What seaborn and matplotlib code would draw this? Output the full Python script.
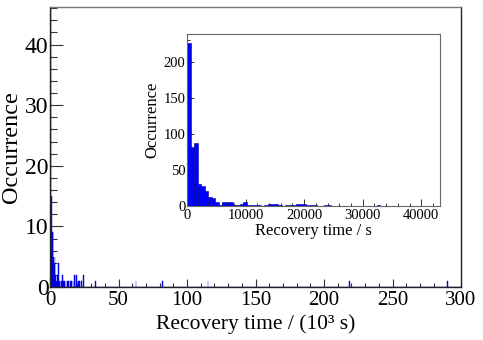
import numpy as np
import pandas as pd
import matplotlib
matplotlib.use("Agg")
import matplotlib.pyplot as plt
from matplotlib.ticker import MultipleLocator
import seaborn as sns

# ---- main histogram data (recovery time in 10^3 s, bin start; occurrences) ----
main_bin_start = [0, 0.5, 1.0, 1.5, 2.0, 2.5, 3.0, 3.5, 4.0, 4.5,
                  5.0, 5.5, 6.0, 6.5, 7.0, 8.0, 9.0, 9.5, 10.5, 11.5,
                  12.5, 13.5, 14.5, 15.5, 16.5, 17.5, 18.0, 19.0, 19.5, 20.5,
                  21.5, 22.5, 24.0, 33.0, 62.5, 82.0, 115.0, 218.5, 290.0]
main_counts = [60, 15, 15, 9, 9, 5, 4, 5, 2, 1,
               2, 1, 4, 1, 1, 1, 2, 1, 1, 1,
               1, 1, 1, 1, 1, 2, 2, 2, 1, 1,
               1, 1, 2, 1, 1, 1, 1, 1, 1]
main_bin_width = 0.5

# ---- inset histogram data (recovery time in s, bin start; occurrences) ----
inset_bin_start = [0, 600, 1200, 1800, 2400, 3000, 3600, 4200, 4800, 5400,
                   6000, 6600, 7200, 7800, 8400, 9000, 9600, 10200, 10800, 11400,
                   12000, 13200, 13800, 14400, 15000, 15600, 16800, 17400, 18000, 18600,
                   19200, 19800, 20400, 21000, 21600, 23400, 24000, 32400]
inset_counts = [226, 82, 87, 31, 28, 21, 12, 11, 5, 2,
                6, 5, 5, 2, 2, 3, 5, 1, 1, 1,
                2, 2, 3, 3, 3, 2, 1, 2, 1, 3,
                3, 3, 2, 1, 2, 2, 2, 1]
inset_bin_width = 600

main_xticks = [0, 50, 100, 150, 200, 250, 300]
main_yticks = [0, 10, 20, 30, 40]
inset_xticks = [0, 10000, 20000, 30000, 40000]
inset_yticks = [0, 50, 100, 150, 200]

sns.set_style("ticks")
plt.rcParams['font.family'] = ['Liberation Serif', 'DejaVu Serif']
plt.rcParams['text.color'] = 'black'
plt.rcParams['axes.labelcolor'] = 'black'
plt.rcParams['xtick.labelcolor'] = 'black'
plt.rcParams['ytick.labelcolor'] = 'black'

fig = plt.figure(figsize=(4.83, 3.40), dpi=100)
ax = fig.add_axes([50/483, 1-287/340, (461-50)/483, (287-7)/340])

df_main = pd.DataFrame({"t": np.array(main_bin_start, dtype=float) + main_bin_width/2,
                        "n": np.array(main_counts, dtype=float)})
sns.histplot(data=df_main, x="t", weights="n",
             binwidth=main_bin_width, binrange=(0, 300),
             color="#0000ff", alpha=1, edgecolor="#0000cc", linewidth=0.3,
             ax=ax)
ax.set_xlim(0, 300)
ax.set_ylim(0, 46.2)
ax.set_xticks(main_xticks)
ax.set_yticks(main_yticks)
ax.xaxis.set_minor_locator(MultipleLocator(10))
ax.yaxis.set_minor_locator(MultipleLocator(2))
ax.tick_params(axis="both", which="both", direction="in", color="#333333",
               labelcolor="black")
ax.tick_params(axis="y", which="major", length=9, width=0.8, labelsize=17, pad=1)
ax.tick_params(axis="y", which="minor", length=5, width=0.8)
ax.tick_params(axis="x", which="major", length=6, width=0.8, labelsize=15, pad=3)
ax.tick_params(axis="x", which="minor", length=3, width=0.8)
ax.set_xlabel("Recovery time / (10³ s)", fontsize=15.5, labelpad=3, color="black")
ax.set_ylabel("Occurrence", fontsize=17.5, labelpad=2, color="black")
for s in ax.spines.values():
    s.set_color("#222222")
    s.set_linewidth(1.0)
    s.set_visible(True)
ax.spines["top"].set_color("#777777")

# ---- inset ----
ax2 = fig.add_axes([187/483, 1-206/340, (440-187)/483, (206-34)/340])
df_in = pd.DataFrame({"t": np.array(inset_bin_start, dtype=float) + inset_bin_width/2,
                      "n": np.array(inset_counts, dtype=float)})
sns.histplot(data=df_in, x="t", weights="n",
             binwidth=inset_bin_width, binrange=(0, 43200),
             color="#0000ff", alpha=1, edgecolor="#00009a", linewidth=0.4,
             ax=ax2)
ax2.set_xlim(0, 43200)
ax2.set_ylim(0, 238.5)
ax2.set_xticks(inset_xticks)
ax2.set_yticks(inset_yticks)
ax2.xaxis.set_minor_locator(MultipleLocator(2000))
ax2.yaxis.set_minor_locator(MultipleLocator(10))
ax2.tick_params(axis="both", which="both", direction="in", color="#333333",
                labelcolor="black")
ax2.tick_params(axis="both", which="major", length=5, width=0.7, labelsize=10.5, pad=2)
ax2.tick_params(axis="both", which="minor", length=2.5, width=0.7)
ax2.tick_params(axis="y", pad=1)
ax2.set_xlabel("Recovery time / s", fontsize=12, labelpad=1, color="black")
ax2.set_ylabel("Occurrence", fontsize=12, labelpad=2, color="black")
for s in ax2.spines.values():
    s.set_color("#666666")
    s.set_linewidth(0.8)
    s.set_visible(True)

fig.savefig("out.png", dpi=100)
